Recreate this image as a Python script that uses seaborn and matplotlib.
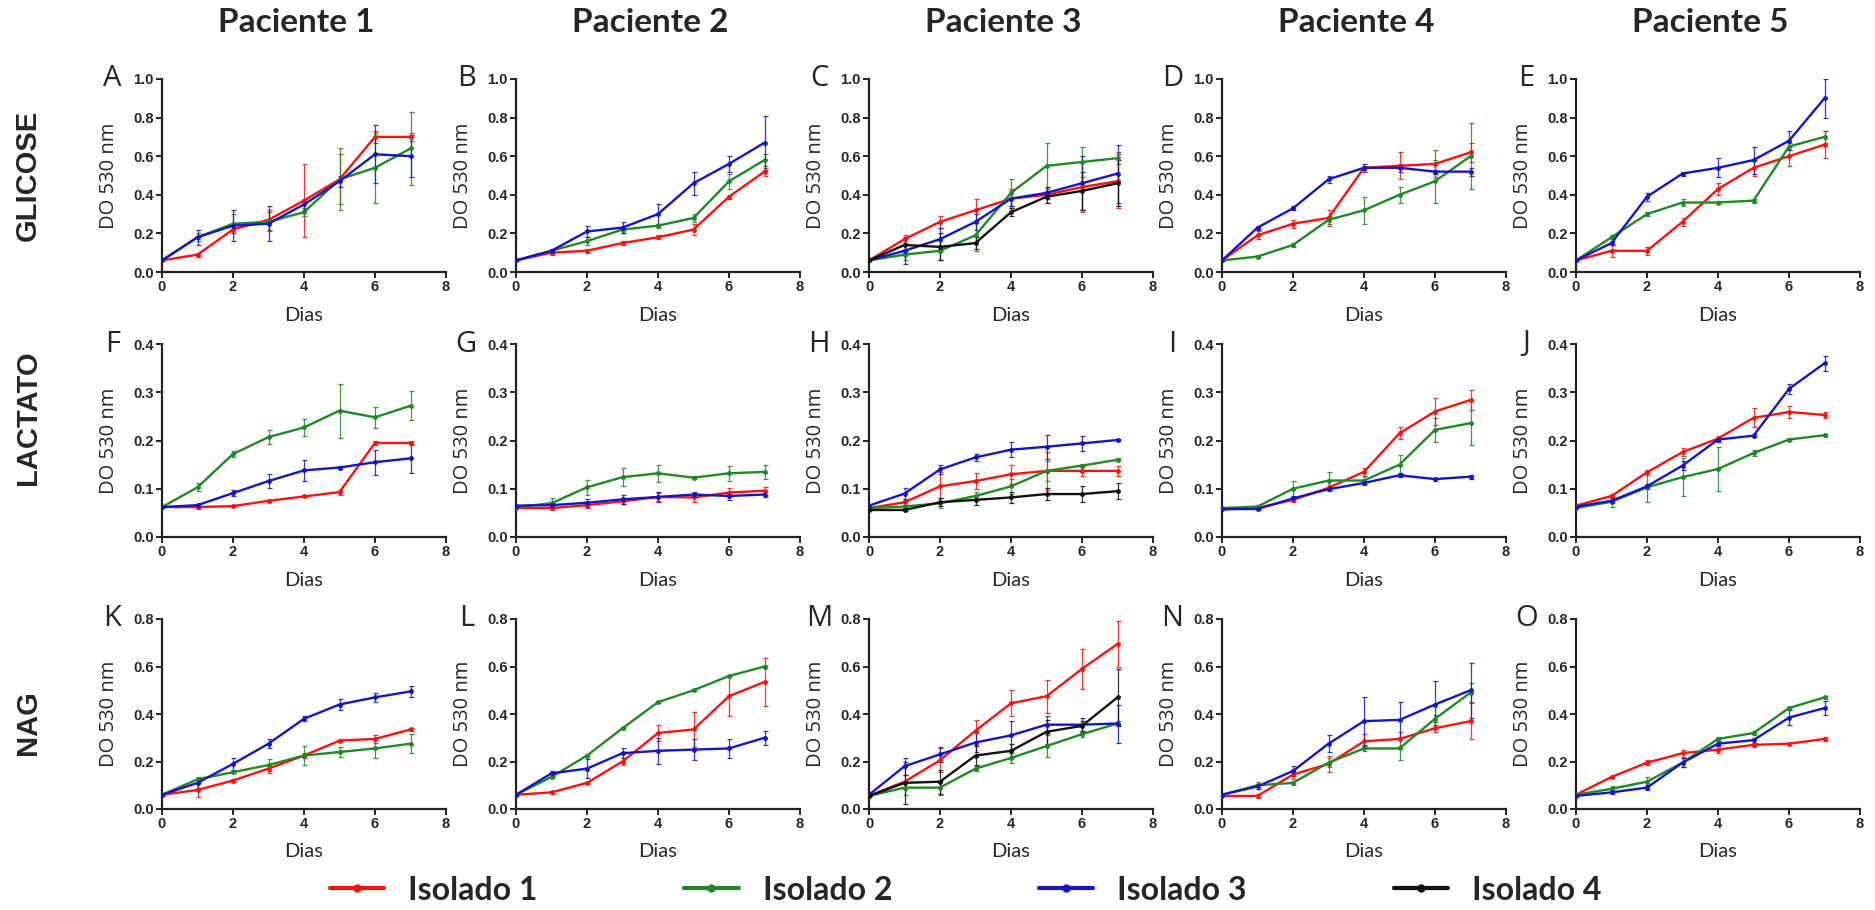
import numpy as np
import pandas as pd
import seaborn as sns
import matplotlib.pyplot as plt
from matplotlib.lines import Line2D

# Dias de cultivo
dias = [0, 1, 2, 3, 4, 5, 6, 7]
isolados = ['Isolado 1', 'Isolado 2', 'Isolado 3', 'Isolado 4']
pacientes = ['Paciente 1', 'Paciente 2', 'Paciente 3', 'Paciente 4', 'Paciente 5']
substratos = ['GLICOSE', 'LACTATO', 'NAG']
letras = 'ABCDEFGHIJKLMNO'

# ---- GLICOSE (media e desvio) ----
A_media = {'Isolado 1': [0.06, 0.09, 0.22, 0.27, 0.37, 0.48, 0.70, 0.70],
           'Isolado 2': [0.06, 0.18, 0.25, 0.26, 0.31, 0.48, 0.54, 0.64],
           'Isolado 3': [0.06, 0.18, 0.24, 0.25, 0.35, 0.47, 0.61, 0.60]}
A_dp = {'Isolado 1': [0.0, 0.01, 0.02, 0.05, 0.19, 0.13, 0.03, 0.02],
        'Isolado 2': [0.0, 0.02, 0.05, 0.05, 0.02, 0.16, 0.18, 0.19],
        'Isolado 3': [0.0, 0.04, 0.08, 0.09, 0.03, 0.03, 0.15, 0.11]}

B_media = {'Isolado 1': [0.06, 0.10, 0.11, 0.15, 0.18, 0.22, 0.39, 0.52],
           'Isolado 2': [0.06, 0.11, 0.16, 0.22, 0.24, 0.28, 0.47, 0.58],
           'Isolado 3': [0.06, 0.11, 0.21, 0.23, 0.30, 0.46, 0.56, 0.67]}
B_dp = {'Isolado 1': [0.0, 0.01, 0.01, 0.01, 0.01, 0.03, 0.01, 0.02],
        'Isolado 2': [0.0, 0.01, 0.02, 0.02, 0.01, 0.02, 0.04, 0.03],
        'Isolado 3': [0.0, 0.01, 0.03, 0.03, 0.05, 0.06, 0.04, 0.14]}

C_media = {'Isolado 1': [0.06, 0.17, 0.26, 0.32, 0.38, 0.40, 0.44, 0.47],
           'Isolado 2': [0.06, 0.09, 0.11, 0.19, 0.41, 0.55, 0.57, 0.59],
           'Isolado 3': [0.06, 0.11, 0.17, 0.26, 0.38, 0.41, 0.46, 0.51],
           'Isolado 4': [0.06, 0.14, 0.13, 0.15, 0.31, 0.39, 0.42, 0.46]}
C_dp = {'Isolado 1': [0.0, 0.02, 0.03, 0.06, 0.05, 0.04, 0.13, 0.14],
        'Isolado 2': [0.0, 0.03, 0.05, 0.08, 0.07, 0.12, 0.08, 0.03],
        'Isolado 3': [0.0, 0.07, 0.06, 0.04, 0.04, 0.03, 0.14, 0.15],
        'Isolado 4': [0.0, 0.03, 0.07, 0.03, 0.02, 0.03, 0.10, 0.12]}

D_media = {'Isolado 1': [0.06, 0.19, 0.25, 0.28, 0.54, 0.55, 0.56, 0.62],
           'Isolado 2': [0.06, 0.08, 0.14, 0.27, 0.32, 0.40, 0.47, 0.60],
           'Isolado 3': [0.06, 0.23, 0.33, 0.48, 0.54, 0.54, 0.52, 0.52]}
D_dp = {'Isolado 1': [0.0, 0.02, 0.02, 0.04, 0.01, 0.07, 0.07, 0.05],
        'Isolado 2': [0.0, 0.01, 0.01, 0.02, 0.07, 0.04, 0.11, 0.17],
        'Isolado 3': [0.0, 0.01, 0.01, 0.02, 0.02, 0.02, 0.01, 0.02]}

E_media = {'Isolado 1': [0.06, 0.11, 0.11, 0.26, 0.43, 0.54, 0.60, 0.66],
           'Isolado 2': [0.06, 0.18, 0.30, 0.36, 0.36, 0.37, 0.65, 0.70],
           'Isolado 3': [0.06, 0.15, 0.39, 0.51, 0.54, 0.58, 0.68, 0.90]}
E_dp = {'Isolado 1': [0.0, 0.03, 0.02, 0.02, 0.03, 0.04, 0.05, 0.07],
        'Isolado 2': [0.0, 0.01, 0.01, 0.02, 0.01, 0.01, 0.02, 0.03],
        'Isolado 3': [0.0, 0.01, 0.02, 0.01, 0.05, 0.07, 0.05, 0.10]}

# ---- LACTATO ----
F_media = {'Isolado 1': [0.062, 0.062, 0.064, 0.075, 0.084, 0.093, 0.195, 0.195],
           'Isolado 2': [0.062, 0.103, 0.172, 0.207, 0.227, 0.262, 0.248, 0.272],
           'Isolado 3': [0.062, 0.066, 0.091, 0.116, 0.138, 0.144, 0.155, 0.163]}
F_dp = {'Isolado 1': [0.0, 0.003, 0.002, 0.002, 0.002, 0.005, 0.004, 0.004],
        'Isolado 2': [0.0, 0.008, 0.007, 0.015, 0.018, 0.056, 0.022, 0.030],
        'Isolado 3': [0.0, 0.003, 0.006, 0.015, 0.022, 0.003, 0.026, 0.030]}

G_media = {'Isolado 1': [0.060, 0.060, 0.066, 0.074, 0.083, 0.082, 0.092, 0.096],
           'Isolado 2': [0.062, 0.070, 0.103, 0.124, 0.132, 0.123, 0.132, 0.135],
           'Isolado 3': [0.065, 0.066, 0.071, 0.078, 0.083, 0.088, 0.085, 0.088]}
G_dp = {'Isolado 1': [0.0, 0.005, 0.005, 0.006, 0.008, 0.010, 0.010, 0.008],
        'Isolado 2': [0.0, 0.010, 0.015, 0.018, 0.018, 0.003, 0.015, 0.015],
        'Isolado 3': [0.0, 0.005, 0.008, 0.010, 0.010, 0.005, 0.008, 0.005]}

H_media = {'Isolado 1': [0.060, 0.072, 0.105, 0.116, 0.130, 0.137, 0.137, 0.137],
           'Isolado 2': [0.060, 0.063, 0.070, 0.085, 0.105, 0.137, 0.148, 0.160],
           'Isolado 3': [0.065, 0.090, 0.140, 0.165, 0.181, 0.187, 0.194, 0.201],
           'Isolado 4': [0.056, 0.056, 0.072, 0.077, 0.082, 0.089, 0.089, 0.095]}
H_dp = {'Isolado 1': [0.0, 0.005, 0.030, 0.017, 0.020, 0.040, 0.010, 0.010],
        'Isolado 2': [0.0, 0.003, 0.010, 0.008, 0.015, 0.020, 0.003, 0.003],
        'Isolado 3': [0.0, 0.012, 0.010, 0.008, 0.015, 0.025, 0.015, 0.003],
        'Isolado 4': [0.0, 0.003, 0.008, 0.010, 0.012, 0.012, 0.016, 0.017]}

I_media = {'Isolado 1': [0.057, 0.060, 0.077, 0.102, 0.135, 0.215, 0.260, 0.284],
           'Isolado 2': [0.060, 0.063, 0.100, 0.117, 0.117, 0.150, 0.222, 0.236],
           'Isolado 3': [0.058, 0.058, 0.080, 0.099, 0.112, 0.128, 0.120, 0.125]}
I_dp = {'Isolado 1': [0.0, 0.003, 0.005, 0.005, 0.008, 0.012, 0.028, 0.020],
        'Isolado 2': [0.0, 0.003, 0.017, 0.018, 0.010, 0.020, 0.025, 0.045],
        'Isolado 3': [0.0, 0.003, 0.004, 0.004, 0.003, 0.004, 0.003, 0.004]}

J_media = {'Isolado 1': [0.065, 0.085, 0.134, 0.176, 0.204, 0.247, 0.259, 0.253],
           'Isolado 2': [0.060, 0.073, 0.103, 0.124, 0.141, 0.174, 0.202, 0.211],
           'Isolado 3': [0.063, 0.075, 0.105, 0.148, 0.202, 0.210, 0.307, 0.360]}
J_dp = {'Isolado 1': [0.0, 0.004, 0.005, 0.008, 0.005, 0.020, 0.012, 0.006],
        'Isolado 2': [0.0, 0.010, 0.030, 0.040, 0.045, 0.006, 0.003, 0.003],
        'Isolado 3': [0.0, 0.005, 0.005, 0.010, 0.005, 0.003, 0.010, 0.015]}

# ---- NAG ----
K_media = {'Isolado 1': [0.06, 0.08, 0.12, 0.17, 0.225, 0.288, 0.295, 0.335],
           'Isolado 2': [0.06, 0.125, 0.155, 0.185, 0.225, 0.24, 0.255, 0.275],
           'Isolado 3': [0.06, 0.11, 0.19, 0.275, 0.38, 0.44, 0.47, 0.495]}
K_dp = {'Isolado 1': [0.0, 0.03, 0.005, 0.02, 0.01, 0.005, 0.015, 0.008],
        'Isolado 2': [0.0, 0.01, 0.005, 0.025, 0.04, 0.02, 0.04, 0.04],
        'Isolado 3': [0.0, 0.02, 0.025, 0.02, 0.01, 0.025, 0.02, 0.025]}

L_media = {'Isolado 1': [0.06, 0.07, 0.11, 0.20, 0.32, 0.335, 0.475, 0.535],
           'Isolado 2': [0.06, 0.135, 0.225, 0.34, 0.45, 0.50, 0.56, 0.60],
           'Isolado 3': [0.06, 0.15, 0.17, 0.235, 0.245, 0.25, 0.255, 0.30]}
L_dp = {'Isolado 1': [0.0, 0.005, 0.005, 0.015, 0.035, 0.075, 0.085, 0.10],
        'Isolado 2': [0.0, 0.005, 0.005, 0.005, 0.005, 0.005, 0.005, 0.005],
        'Isolado 3': [0.0, 0.012, 0.04, 0.02, 0.055, 0.045, 0.04, 0.03]}

M_media = {'Isolado 1': [0.055, 0.115, 0.205, 0.33, 0.445, 0.475, 0.59, 0.695],
           'Isolado 2': [0.055, 0.09, 0.09, 0.17, 0.215, 0.265, 0.315, 0.36],
           'Isolado 3': [0.06, 0.18, 0.23, 0.28, 0.31, 0.355, 0.355, 0.36],
           'Isolado 4': [0.055, 0.11, 0.115, 0.225, 0.245, 0.325, 0.35, 0.47]}
M_dp = {'Isolado 1': [0.0, 0.03, 0.05, 0.045, 0.055, 0.07, 0.085, 0.095],
        'Isolado 2': [0.0, 0.03, 0.03, 0.01, 0.02, 0.045, 0.01, 0.01],
        'Isolado 3': [0.0, 0.035, 0.03, 0.04, 0.06, 0.035, 0.03, 0.08],
        'Isolado 4': [0.0, 0.09, 0.05, 0.04, 0.03, 0.05, 0.02, 0.12]}

N_media = {'Isolado 1': [0.055, 0.055, 0.145, 0.19, 0.285, 0.295, 0.34, 0.37],
           'Isolado 2': [0.06, 0.10, 0.11, 0.195, 0.255, 0.255, 0.38, 0.49],
           'Isolado 3': [0.06, 0.095, 0.16, 0.275, 0.37, 0.375, 0.44, 0.50]}
N_dp = {'Isolado 1': [0.0, 0.01, 0.02, 0.035, 0.03, 0.03, 0.015, 0.075],
        'Isolado 2': [0.0, 0.015, 0.01, 0.02, 0.01, 0.05, 0.015, 0.04],
        'Isolado 3': [0.0, 0.01, 0.02, 0.035, 0.10, 0.075, 0.10, 0.115]}

O_media = {'Isolado 1': [0.06, 0.135, 0.195, 0.235, 0.25, 0.27, 0.275, 0.295],
           'Isolado 2': [0.06, 0.085, 0.115, 0.195, 0.295, 0.32, 0.425, 0.47],
           'Isolado 3': [0.055, 0.07, 0.09, 0.195, 0.275, 0.29, 0.385, 0.425]}
O_dp = {'Isolado 1': [0.0, 0.004, 0.01, 0.015, 0.015, 0.01, 0.005, 0.01],
        'Isolado 2': [0.0, 0.01, 0.02, 0.02, 0.01, 0.01, 0.005, 0.005],
        'Isolado 3': [0.0, 0.005, 0.01, 0.02, 0.01, 0.01, 0.03, 0.03]}

paineis = [[(A_media, A_dp), (B_media, B_dp), (C_media, C_dp), (D_media, D_dp), (E_media, E_dp)],
           [(F_media, F_dp), (G_media, G_dp), (H_media, H_dp), (I_media, I_dp), (J_media, J_dp)],
           [(K_media, K_dp), (L_media, L_dp), (M_media, M_dp), (N_media, N_dp), (O_media, O_dp)]]
ylims = [1.0, 0.4, 0.8]
ysteps = [0.2, 0.1, 0.2]

cores = {'Isolado 1': '#ff1010', 'Isolado 2': '#1f8a24',
         'Isolado 3': '#1515c8', 'Isolado 4': '#111111'}

sns.set_style('ticks')
tick_font = {'family': ['Liberation Sans Narrow', 'Liberation Sans'], 'weight': 'bold', 'size': 10.5}

fig = plt.figure(figsize=(18.75, 9.1), dpi=100)

W, H = 1875, 910
col_left = [162, 516, 869, 1222, 1576]
ax_w = 284
row_top = [79, 344, 619]
row_bot = [272, 537, 809]
row_label_y = [175, 418, 723]

k = 0
for r in range(3):
    for c in range(5):
        media, dp = paineis[r][c]
        ax = fig.add_axes([col_left[c] / W, 1 - row_bot[r] / H, ax_w / W,
                           (row_bot[r] - row_top[r]) / H])
        linhas = []
        for iso in media:
            for d, m in zip(dias, media[iso]):
                linhas.append({'Dia': d, 'DO': m, 'Isolado': iso})
        df = pd.DataFrame(linhas)
        sns.lineplot(data=df, x='Dia', y='DO', hue='Isolado', palette=cores,
                     marker='o', markersize=3.5, markeredgewidth=0,
                     linewidth=1.7, legend=False, ax=ax, zorder=3)
        for iso in media:
            ax.errorbar(dias, media[iso], yerr=dp[iso], fmt='none',
                        ecolor=cores[iso], elinewidth=0.9, capsize=1.8,
                        capthick=0.9, alpha=0.85, zorder=2)
        ax.set_xlim(0, 8)
        ax.set_ylim(0, ylims[r])
        ax.set_xticks([0, 2, 4, 6, 8])
        ax.set_yticks(np.round(np.arange(0, ylims[r] + 1e-9, ysteps[r]), 1))
        ax.set_xticklabels(['0', '2', '4', '6', '8'], fontdict=tick_font)
        ax.set_yticklabels(['%.1f' % v for v in ax.get_yticks()], fontdict=tick_font)
        ax.tick_params(direction='out', length=4, width=1.4, pad=2, color='#222222')
        for s in ['top', 'right']:
            ax.spines[s].set_visible(False)
        for s in ['left', 'bottom']:
            ax.spines[s].set_linewidth(1.6)
            ax.spines[s].set_color('#222222')
        ax.set_ylabel('DO 530 nm', fontsize=14.5, family='Open Sans')
        ax.yaxis.set_label_coords(-0.15, 0.5)
        ax.set_xlabel('Dias', fontsize=14.5, family='Lato')
        ax.xaxis.set_label_coords(0.5, -0.18)
        ax.text(-0.175, 1.0, letras[k], transform=ax.transAxes, ha='center',
                va='center', fontsize=21, family='Open Sans')
        k += 1

for c, p in enumerate(pacientes):
    fig.text((col_left[c] + ax_w / 2 - 8) / W, 1 - 23 / H, p, ha='center', va='center',
             fontsize=24, fontweight='bold', family='Lato')

for r, s in enumerate(substratos):
    fig.text(28 / W, 1 - row_label_y[r] / H, s, rotation=90,
             ha='center', va='center', fontsize=21, fontweight='bold',
             family='Liberation Sans')

handles = [Line2D([0], [0], color=cores[i], lw=3.0, marker='o', markersize=5) for i in isolados]
fig.legend(handles, isolados, loc='center', bbox_to_anchor=(0.515, 1 - 890 / H), ncol=4,
           frameon=False, prop={'family': 'Lato', 'weight': 'bold', 'size': 23},
           handlelength=1.7, handletextpad=0.75, columnspacing=4.6)

fig.savefig('out.png', dpi=100)
